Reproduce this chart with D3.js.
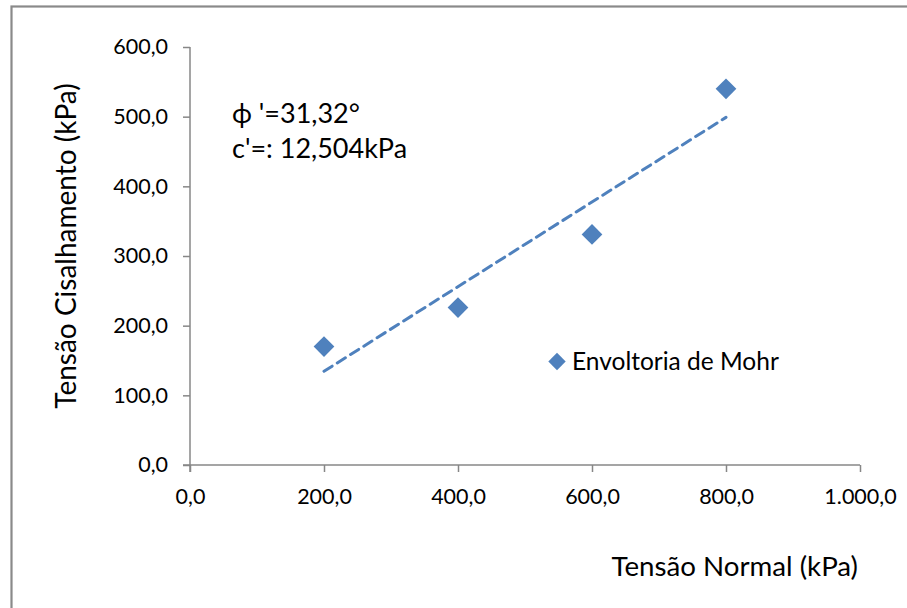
<!DOCTYPE html>
<html>
<head>
<meta charset="utf-8">
<script src="https://cdn.jsdelivr.net/npm/d3@7"></script>
<style>
  html, body { margin: 0; padding: 0; background: #fff; }
  svg { display: block; }
  text { font-family: Lato, "Open Sans", "Noto Sans", sans-serif; fill: #000; }
</style>
</head>
<body>
<svg id="chart" width="907" height="608"></svg>
<script>
// Ensaio de cisalhamento: tensão normal x tensão cisalhante de ruptura
const normalStress = [200, 400, 600, 800];
const shearStress = [170, 226, 331, 540];
const xTicks = [0, 200, 400, 600, 800, 1000];
const yTicks = [0, 100, 200, 300, 400, 500, 600];
const seriesName = "Envoltoria de Mohr";
const annotationLines = ["ϕ '=31,32°", "c'=: 12,504kPa"];

const fmt = v => {
  const s = v.toFixed(1).replace(".", ",");
  const [i, d] = s.split(",");
  return i.replace(/\B(?=(\d{3})+(?!\d))/g, ".") + "," + d;
};

const svg = d3.select("#chart");
const color = "#4F81BD";
const axisColor = "#878787";

// Chart area frame
svg.append("rect")
  .attr("x", 11.5).attr("y", 6.5)
  .attr("width", 910).attr("height", 620)
  .attr("fill", "none").attr("stroke", "#8a8a8a").attr("stroke-width", 2.2);

const x = d3.scaleLinear().domain([0, 1000]).range([190, 860]);
const y = d3.scaleLinear().domain([0, 600]).range([465, 47]);

// Y axis
const yAxis = svg.append("g").attr("transform", `translate(${x(0)},0)`)
  .call(d3.axisLeft(y).tickValues(yTicks).tickFormat(fmt).tickSize(7).tickPadding(15));
// X axis
const xAxis = svg.append("g").attr("transform", `translate(0,${y(0)})`)
  .call(d3.axisBottom(x).tickValues(xTicks).tickFormat(fmt).tickSize(7).tickPadding(17));

[xAxis, yAxis].forEach(g => {
  g.select(".domain").attr("stroke", axisColor).attr("stroke-width", 1.5);
  g.selectAll(".tick line").attr("stroke", axisColor).attr("stroke-width", 1.5);
  g.selectAll(".tick text").attr("font-size", 21.5).attr("fill", "#000")
    .style("font-family", "Lato, 'Open Sans', sans-serif");
});
// x-axis line starts at the y-axis tick; ticks hang below only
xAxis.select(".domain").attr("d", `M${x(0) - 7},0H${x(1000)}`);
yAxis.select(".domain").attr("d", `M0,${y(600)}V${y(0) + 7}`);

// Linear trendline (least squares) over the data range
const n = normalStress.length;
const mx = d3.mean(normalStress), my = d3.mean(shearStress);
let sxy = 0, sxx = 0;
for (let i = 0; i < n; i++) {
  sxy += (normalStress[i] - mx) * (shearStress[i] - my);
  sxx += (normalStress[i] - mx) ** 2;
}
const slope = sxy / sxx, intercept = my - slope * mx;
const xr = d3.extent(normalStress);
svg.append("line")
  .attr("x1", x(xr[0])).attr("y1", y(intercept + slope * xr[0]))
  .attr("x2", x(xr[1])).attr("y2", y(intercept + slope * xr[1]))
  .attr("stroke", color).attr("stroke-width", 3)
  .attr("stroke-dasharray", "9.6,6.1").attr("stroke-linecap", "round");

// Points
const diamond = d3.symbol().type(d3.symbolSquare).size(214);
svg.append("g").selectAll("path")
  .data(normalStress.map((v, i) => [v, shearStress[i]]))
  .join("path")
  .attr("d", diamond)
  .attr("transform", d => `translate(${x(d[0])},${y(d[1])}) rotate(45)`)
  .attr("fill", color);

// Legend
svg.append("path")
  .attr("d", d3.symbol().type(d3.symbolSquare).size(151))
  .attr("transform", "translate(557,361.5) rotate(45)")
  .attr("fill", color);
svg.append("text").attr("x", 572).attr("y", 370)
  .attr("font-size", 24.5).text(seriesName);

// Annotation
svg.append("g").selectAll("text").data(annotationLines).join("text")
  .attr("x", 232).attr("y", (d, i) => 123 + i * 35)
  .attr("font-size", 27).text(d => d);

// Axis titles
svg.append("text")
  .attr("transform", "translate(76,246) rotate(-90)")
  .attr("text-anchor", "middle").attr("font-size", 28)
  .text("Tensão Cisalhamento (kPa)");
svg.append("text")
  .attr("x", 858).attr("y", 576).attr("text-anchor", "end")
  .attr("font-size", 27.7).text("Tensão Normal (kPa)");
</script>
</body>
</html>
